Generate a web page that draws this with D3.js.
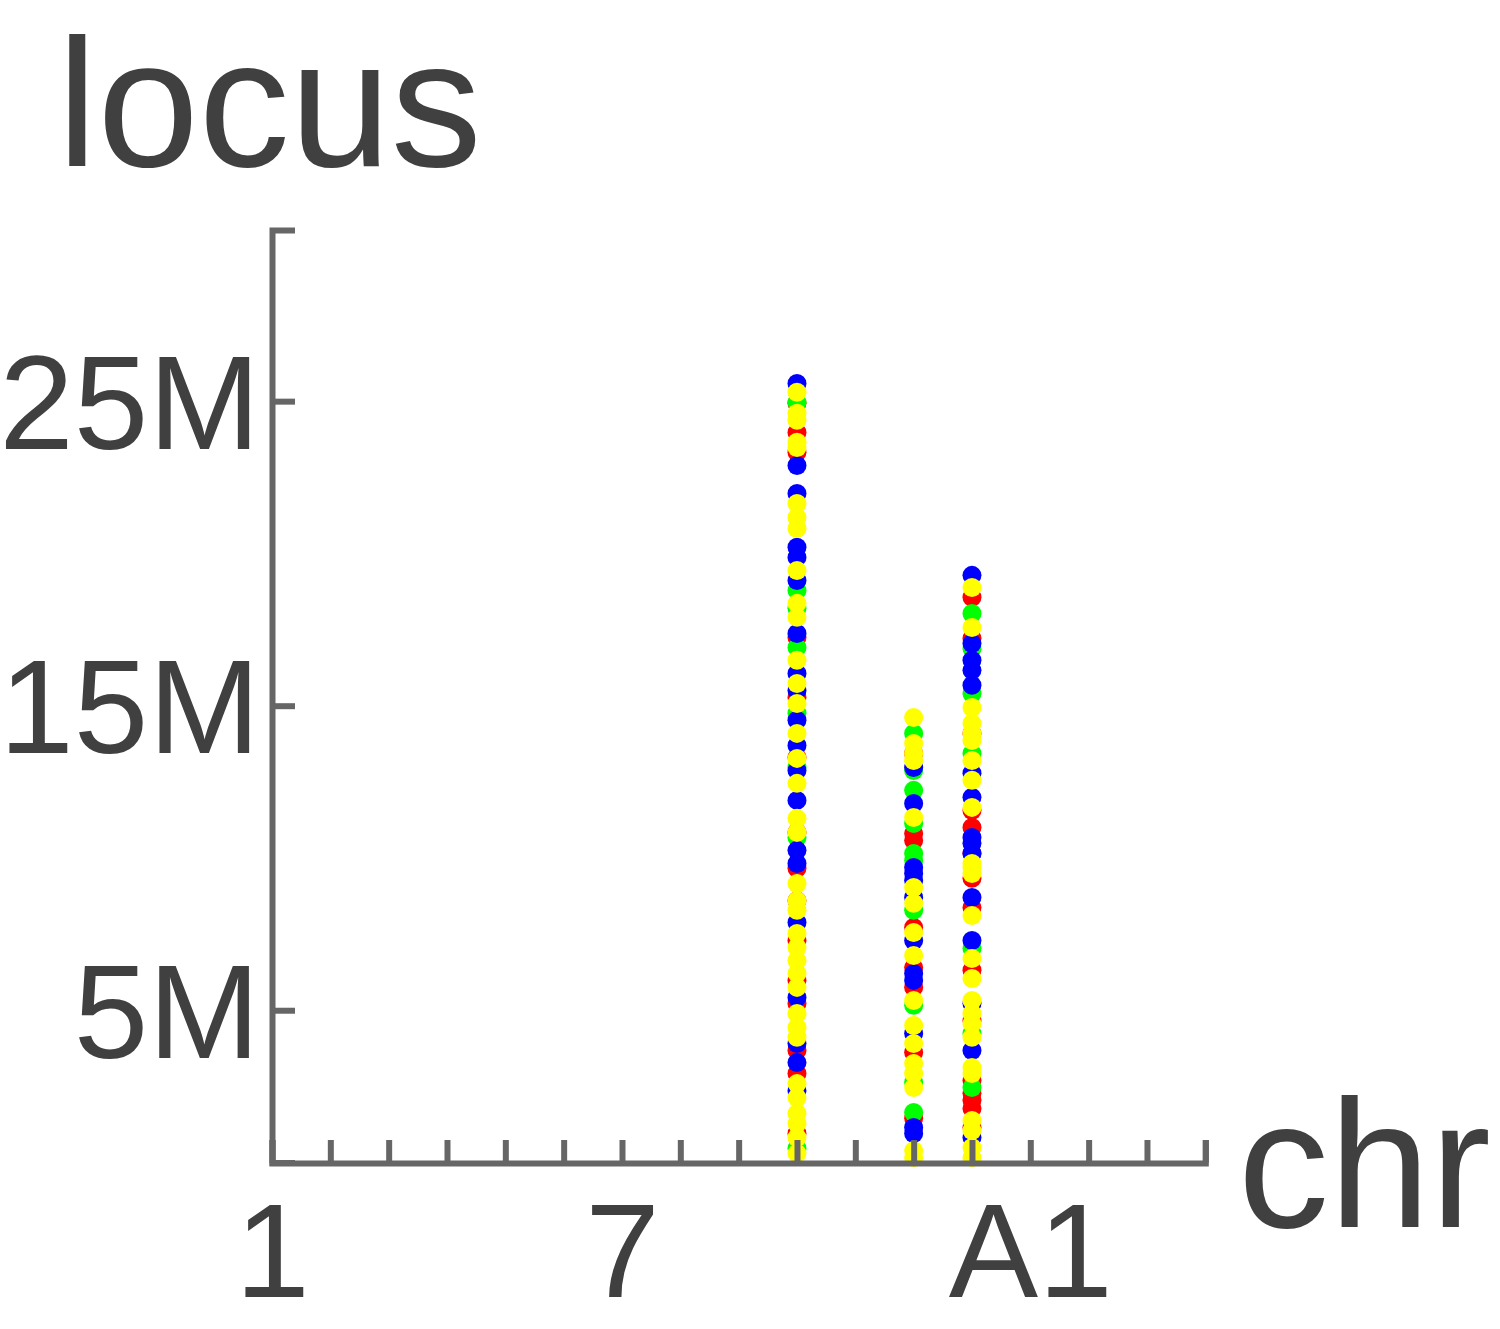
<!DOCTYPE html>
<html>
<head>
<meta charset="utf-8">
<script src="https://cdn.jsdelivr.net/npm/d3@7"></script>
<style>
  body { margin: 0; background: #fff; }
  svg text { font-family: "Liberation Sans", Arial, sans-serif; fill: #404040; }
</style>
</head>
<body>
<div id="chart"></div>
<script>
// chromosome slots along the x axis, only a few get a label
var chromosomes = ["1","2","3","4","5","6","7","8","9","10","11","12","13","A1","A2","A3","X"];
var tickLabels = ["1","7","A1"];
var yTicks = [5, 15, 25]; // Mb

// loci (Mb) per series and chromosome
var redLoci = {
  "10": [24.93, 23.97, 23.32, 17.24, 15.27, 13.30, 10.84, 9.66, 8.60, 7.29, 5.98, 5.22, 3.68, 2.92, 0.95],
  "12": [13.43, 10.80, 10.57, 7.72, 6.40, 5.75, 3.61, 1.45],
  "13": [18.56, 17.21, 14.09, 11.56, 11.00, 10.15, 9.33, 8.37, 6.31, 4.66, 2.69, 2.27, 2.04, 1.77, 1.15]
};
var greenLoci = {
  "10": [24.96, 18.78, 18.2, 16.91, 14.75, 12.97, 10.67, 0.46],
  "12": [14.09, 12.87, 12.22, 11.13, 10.15, 9.92, 8.28, 5.16, 2.63, 1.64],
  "13": [18.03, 16.88, 15.40, 13.43, 7.03, 4.24, 2.46]
};
var blueLoci = {
  "10": [25.58, 22.89, 21.97, 20.20, 19.87, 19.11, 17.37, 16.06, 15.50, 14.52, 13.69, 12.87, 11.89, 10.25, 9.82, 7.88, 5.42, 3.91, 3.28, 2.36],
  "12": [12.97, 11.79, 9.69, 9.49, 9.26, 8.70, 7.29, 6.21, 5.98, 4.24, 1.15, 0.95],
  "13": [19.28, 17.04, 16.49, 16.16, 15.67, 12.78, 11.99, 10.67, 10.48, 10.15, 8.70, 7.29, 5.22, 3.68, 0.82]
};
var yellowLoci = {
  "10": [25.29, 24.60, 24.37, 23.65, 23.48, 21.64, 21.18, 20.82, 19.44, 18.36, 17.90, 16.49, 15.73, 15.07, 14.09, 13.27, 12.45, 11.30, 10.84, 9.16, 8.60, 8.28, 7.52, 7.06, 6.63, 6.21, 5.75, 4.89, 4.43, 4.11, 2.59, 2.13, 1.61, 1.28, 0.82, 0.30],
  "12": [14.61, 13.76, 13.43, 13.20, 11.33, 9.03, 8.51, 7.55, 6.80, 5.32, 4.50, 3.91, 3.25, 2.92, 2.46, 0.39, 0.16],
  "13": [18.88, 17.57, 14.94, 14.42, 14.09, 13.86, 13.20, 12.55, 11.66, 9.82, 9.69, 9.49, 8.11, 6.70, 6.04, 5.32, 4.89, 4.56, 4.11, 3.12, 2.92, 1.38, 1.05, 0.49, 0.16]
};

// drawn in this order, yellow ends up on top
var series = [redLoci, greenLoci, blueLoci, yellowLoci];
var colors = ["#ff0000", "#00ff00", "#0000ff", "#ffff00"];

var width = 1500,
    height = 1329,
    axisColor = "#666666";

var x = d3.scalePoint()
    .domain(chromosomes)
    .range([272, 1205.3]);

var y = d3.scaleLinear()
    .domain([0, 30.62])
    .range([1162.5, 230]);

var svg = d3.select("#chart").append("svg")
    .attr("width", width)
    .attr("height", height);

// flatten each series into {chr, locus} points
series.forEach(function(s, i) {
    var pts = [];
    Object.keys(s).forEach(function(chr) {
        s[chr].forEach(function(v) { pts.push({chr: chr, locus: v}); });
    });
    svg.append("g")
        .selectAll("circle")
        .data(pts)
        .enter().append("circle")
        .attr("cx", function(d) { return x(d.chr); })
        .attr("cy", function(d) { return y(d.locus); })
        .attr("r", 9.5)
        .style("fill", colors[i]);
});

var xAxis = svg.append("g")
    .attr("transform", "translate(0,1163)")
    .call(d3.axisBottom(x)
        .tickSize(-23)
        .tickPadding(39)
        .tickFormat(function(d) { return tickLabels.indexOf(d) >= 0 ? d : ""; }));

var yAxis = svg.append("g")
    .attr("transform", "translate(272,0)")
    .call(d3.axisLeft(y)
        .tickValues(yTicks)
        .tickSize(-23)
        .tickPadding(12)
        .tickFormat(function(d) { return d + "M"; }));

[xAxis, yAxis].forEach(function(a) {
    a.attr("font-size", null).attr("font-family", null);
    a.select(".domain").attr("stroke", axisColor).attr("stroke-width", 6).attr("fill", "none");
    a.selectAll(".tick line").attr("stroke", axisColor).attr("stroke-width", 6);
    a.selectAll(".tick text").style("font-size", "134px").attr("fill", "#404040");
});
yAxis.selectAll(".tick text").attr("dy", "0.35em");

svg.append("text")
    .attr("x", 57)
    .attr("y", 166)
    .style("font-size", "182px")
    .text("locus");

svg.append("text")
    .attr("x", 1238)
    .attr("y", 1227)
    .style("font-size", "182px")
    .text("chr");
</script>
</body>
</html>
